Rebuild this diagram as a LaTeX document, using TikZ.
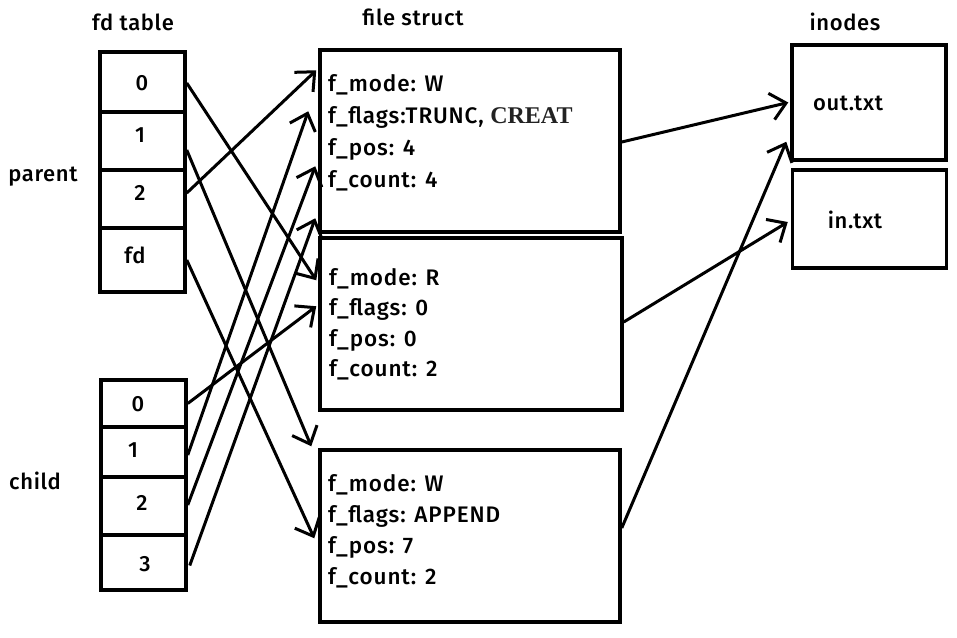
\documentclass[tikz,border=0pt]{standalone}
\usepackage{fontspec}
\setmainfont{Fira Sans}[UprightFont={* Medium},LetterSpace=3]
\newfontfamily\serifb{Liberation Serif}
\usetikzlibrary{arrows.meta,calc}
\definecolor{creatgray}{HTML}{222222}
\begin{document}
\begin{tikzpicture}[x=1pt,y=-1pt,
  cell/.style={draw,line width=3.5pt,minimum width=85pt,inner sep=0pt},
  fsbox/.style={draw,line width=3.5pt,minimum width=300pt,minimum height=180pt,inner sep=0pt},
  inbox/.style={draw,line width=3.5pt,minimum width=154pt,inner sep=0pt},
  fstext/.style={align=left,anchor=north west,inner sep=0pt,font=\fontsize{22.5}{32}\selectfont\addfontfeatures{LetterSpace=4}},
  lbl/.style={font=\fontsize{22}{26}\selectfont,inner sep=0pt},
  arr/.style={line width=3pt,-{Straight Barb[length=15pt,width=27pt,line width=3pt]}}]
\useasboundingbox (0,0) rectangle (957,637);
% labels
\node[lbl] (tfd) at (133,22) {fd table};
\node[lbl] (tfs) at (413,17) {file struct};
\node[lbl] (tin) at (845,22) {inodes};
\node[lbl] (tpar) at (43,177) {parent};
\node[lbl] (tchi) at (35,481) {child};
% parent fd table
\node[cell,minimum height=60pt] (p0) at (142.5,82) {};
\node[cell,minimum height=58pt] (p1) at (142.5,141) {};
\node[cell,minimum height=58pt] (p2) at (142.5,199) {};
\node[cell,minimum height=64pt] (pfd) at (142.5,260) {};
\node[lbl] (p0t) at (142,83) {0};
\node[lbl] (p1t) at (140,135) {1};
\node[lbl] (p2t) at (140,193) {2};
\node[lbl] (pfdt) at (135,255) {fd};
% child fd table
\node[cell,minimum height=47pt] (c0) at (143.5,403.5) {};
\node[cell,minimum height=50pt] (c1) at (143.5,452) {};
\node[cell,minimum height=58pt] (c2) at (143.5,506) {};
\node[cell,minimum height=55pt] (c3) at (143.5,562.5) {};
\node[lbl] (c0t) at (138,404) {0};
\node[lbl] (c1t) at (133,450) {1};
\node[lbl] (c2t) at (142,503) {2};
\node[lbl] (c3t) at (145,564) {3};
% file structs
\node[fsbox,minimum height=182pt] (fs1) at (470,141) {};
\node[fsbox,minimum height=172pt,minimum width=302pt] (fs2) at (471,324) {};
\node[fsbox,minimum height=172pt] (fs3) at (470,536) {};
\node[fstext] (fs1t) at (328,74) {f\_mode: W\\f\_flags:TRUNC, {\serifb\bfseries\fontsize{24}{32}\selectfont\color{creatgray}CREAT}\\f\_pos: 4\\f\_count: 4};
\node[fstext,font=\fontsize{22.5}{30.5}\selectfont\addfontfeatures{LetterSpace=4}] (fs2t) at (329,268) {f\_mode: R\\f\_flags: 0\\f\_pos: 0\\f\_count: 2};
\node[fstext,font=\fontsize{22.5}{31}\selectfont\addfontfeatures{LetterSpace=4}] (fs3t) at (328,474) {f\_mode: W\\f\_flags: APPEND\\f\_pos: 7\\f\_count: 2};
% inodes
\node[inbox,minimum height=115pt] (out) at (869,102.5) {};
\node[inbox,minimum height=98pt] (inn) at (869.5,219) {};
\node[lbl] (outt) at (848,103) {out.txt};
\node[lbl] (innt) at (855,220) {in.txt};
% parent arrows
\draw[arr] ($(p0.east)+(0,1)$) -- ($(fs2.north west)+(-2,44)$);
\draw[arr] ($(p1.east)+(0,9)$) -- ($(fs3.north west)+(-7,-2)$);
\draw[arr] ($(p2.east)+(0,-6)$) -- ($(fs1.north west)+(-2,22)$);
\draw[arr] (pfd.east) -- ($(fs3.north west)+(-4,90)$);
% child arrows
\draw[arr] ($(c0.east)+(0,0)$) -- ($(fs2.north west)+(-2,70)$);
\draw[arr] ($(c1.east)+(0,3)$) -- ($(fs1.north west)+(-10,63)$);
\draw[arr] ($(c2.east)+(0,-1)$) -- ($(fs1.north west)+(-3,118)$);
\draw[arr] ($(c3.east)+(2,3)$) -- ($(fs1.north west)+(-3,170)$);
% inode arrows
\draw[arr] ($(fs1.east)+(0,1)$) -- ($(out.west)+(-2,0)$);
\draw[arr] ($(fs2.east)+(0,-2)$) -- ($(inn.west)+(-3,3)$);
\draw[arr] ($(fs3.east)+(0,-8)$) -- ($(out.south west)+(-4,-20)$);
\end{tikzpicture}
\end{document}
